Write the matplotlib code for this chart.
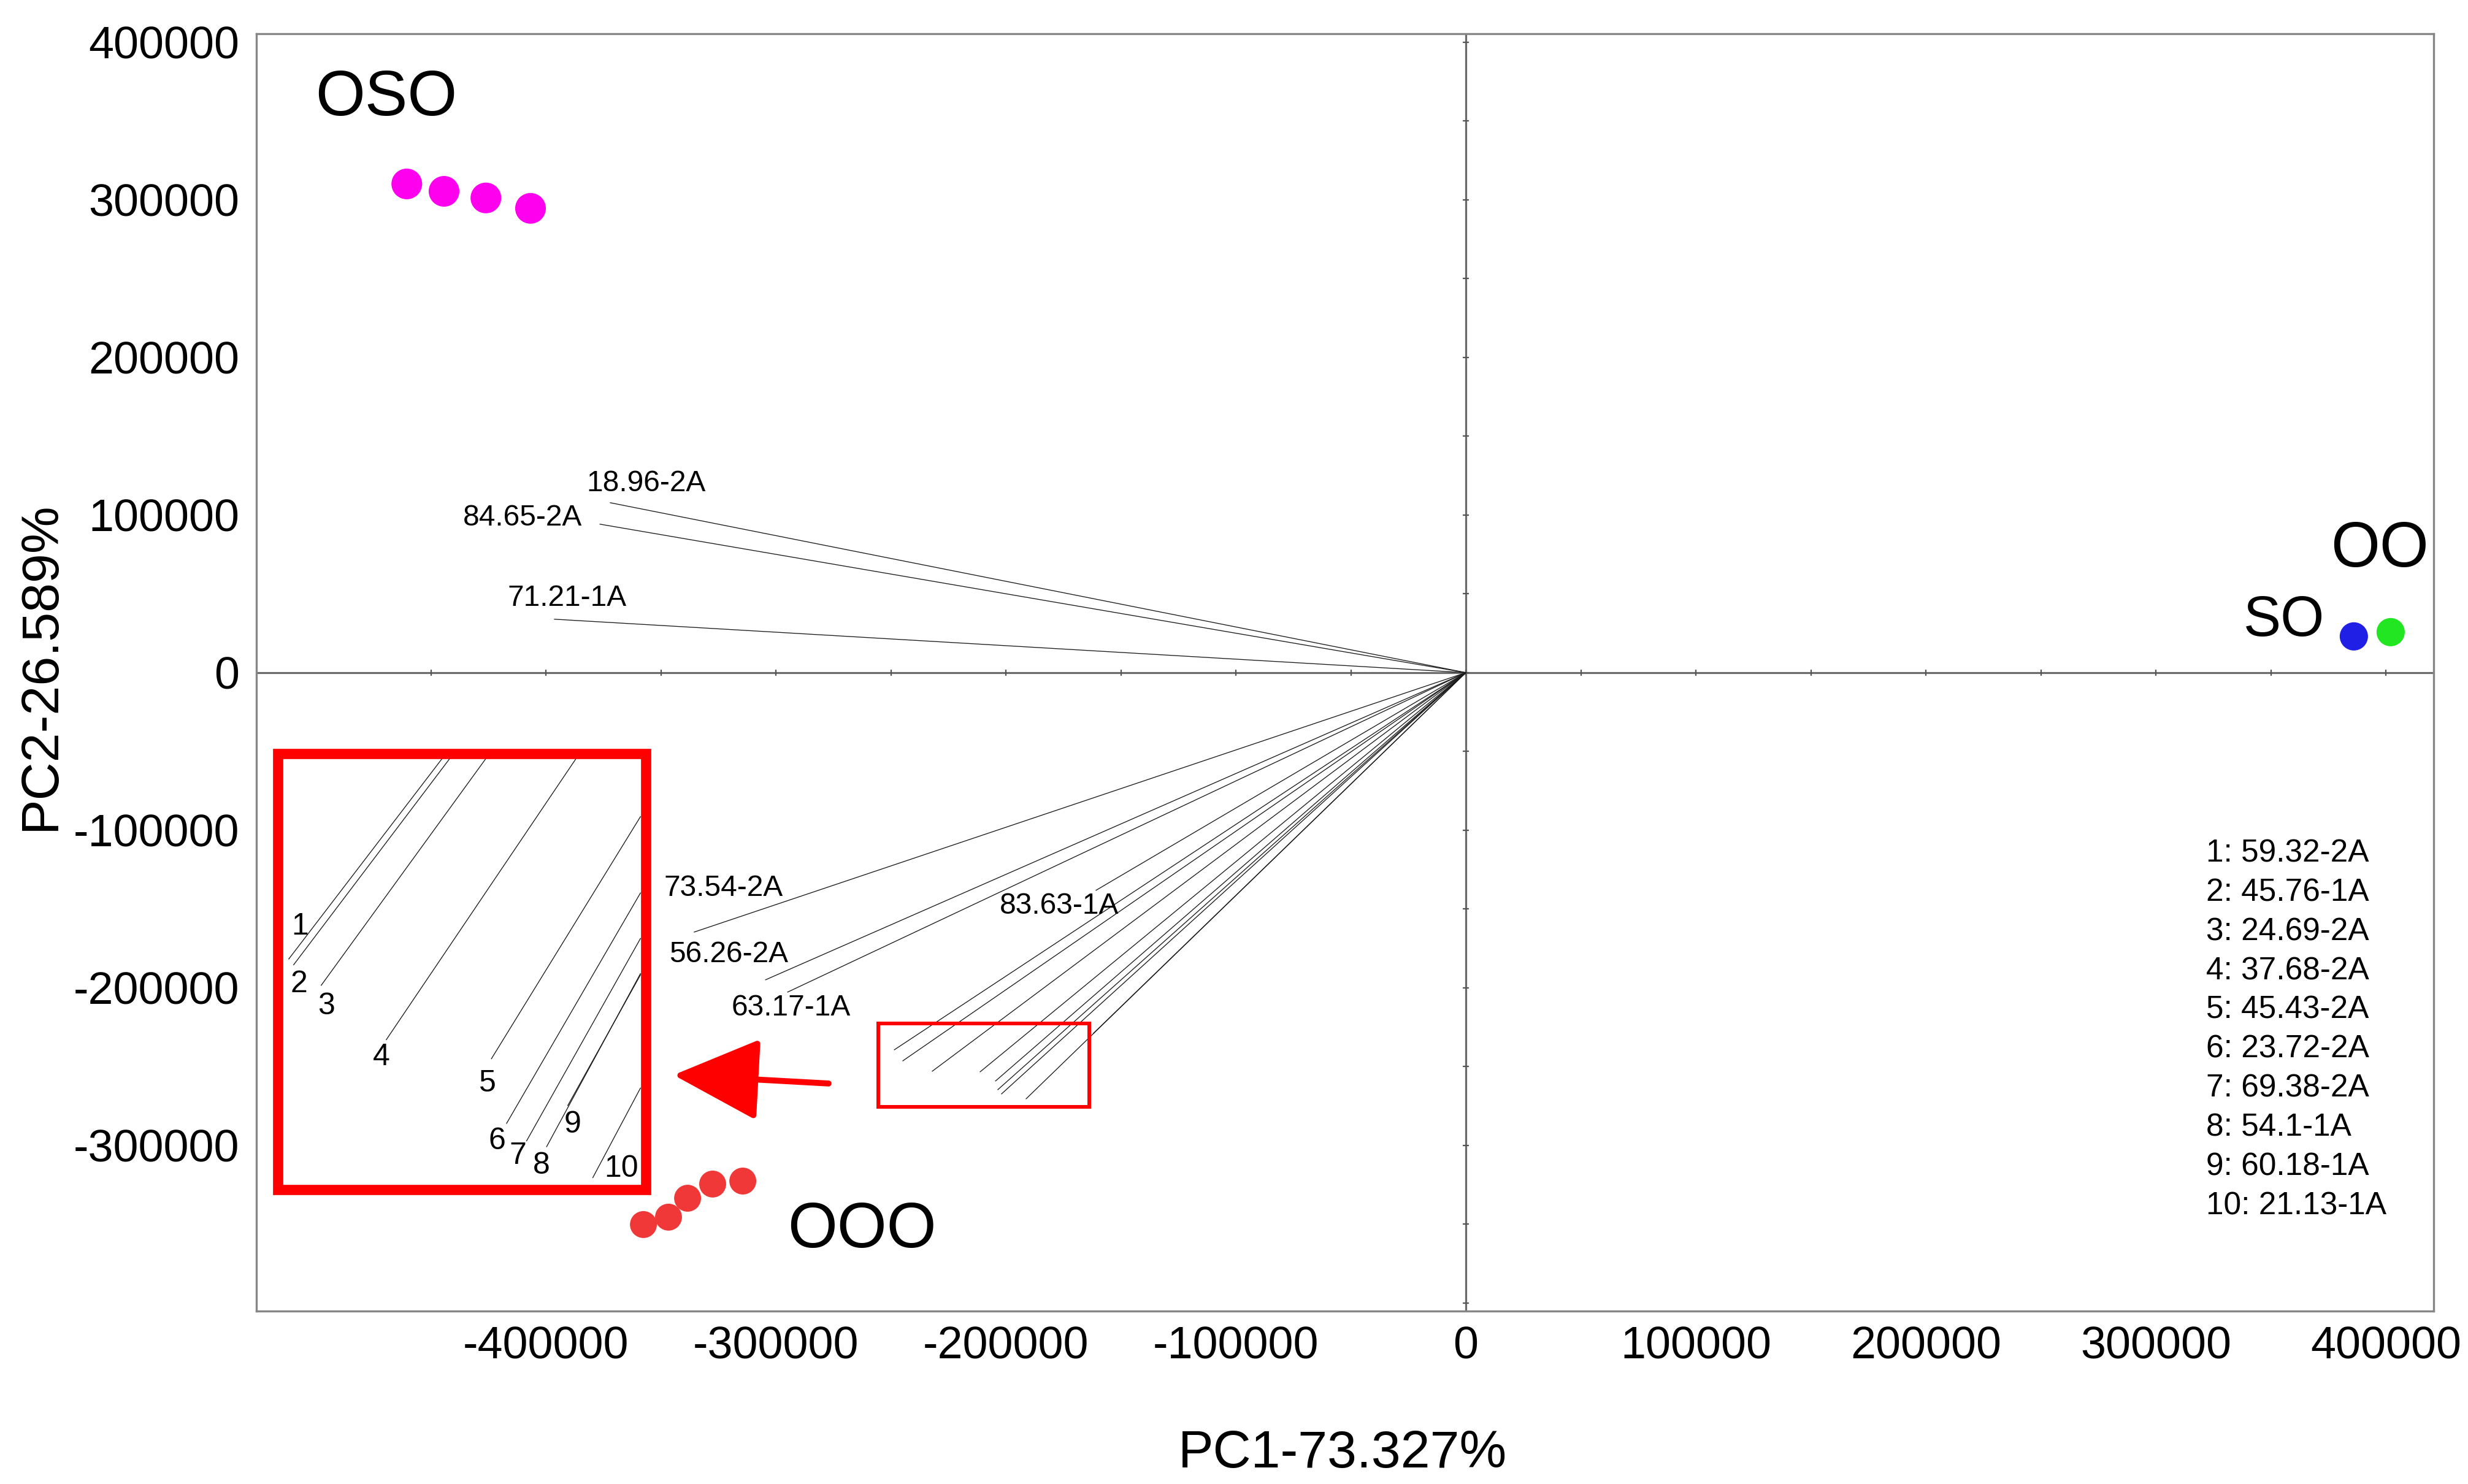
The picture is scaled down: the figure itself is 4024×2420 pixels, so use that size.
import matplotlib
matplotlib.use('Agg')
import matplotlib.pyplot as plt
from matplotlib.patches import Rectangle, FancyArrowPatch, ArrowStyle
import numpy as np

plt.rcParams['font.family'] = ['Liberation Sans', 'DejaVu Sans']

# ---------------- data ----------------
# score groups
oso_x = [-460500, -444300, -426100, -406700]
oso_y = [310100, 305400, 301200, 294600]
ooo_x = [-357600, -346700, -338400, -327500, -314400]
ooo_y = [-350200, -345500, -333500, -324500, -322600]
so_x = [386100]
so_y = [23000]
oo_x = [402100]
oo_y = [25700]

group_names = ['OSO', 'OOO', 'OO', 'SO']
group_lx = [-469300, -262700, 397300, 355700]
group_ly = [363800, -354500, 77400, 32700]
group_fs = [75, 75, 74, 66]

# labelled loading vectors (end points) and their label positions
lab_names = ['18.96-2A', '84.65-2A', '71.21-1A', '73.54-2A', '56.26-2A', '63.17-1A', '83.63-1A']
lab_x = [-372000, -376500, -396300, -335500, -304500, -294900, -160800]
lab_y = [107800, 94200, 33900, -164600, -194900, -202700, -138100]
lab_tx = [-356300, -410100, -390700, -322900, -320500, -293300, -176800]
lab_ty = [119800, 98100, 47100, -137000, -179000, -212800, -148200]

# unlabelled loading vectors ending in the highlighted region
box_load_x = [-248500, -244800, -232000, -211200, -204500, -203500, -201900, -191200, -161900]
box_load_y = [-239300, -246300, -252900, -253300, -259100, -264600, -267300, -270400, -228800]

# enlarged view (inset) of the highlighted region
inset_ids = ['1', '2', '3', '4', '5', '6', '7', '8', '9', '10']
inset_names = ['59.32-2A', '45.76-1A', '24.69-2A', '37.68-2A', '45.43-2A',
               '23.72-2A', '69.38-2A', '54.1-1A', '60.18-1A', '21.13-1A']
inset_x0 = [-511800, -509700, -497700, -469400, -423700, -417100, -408400, -399700, -390500, -379600]
inset_y0 = [-181700, -185400, -198400, -232900, -245000, -286000, -297100, -300800, -274700, -320400]
inset_x1 = [-444900, -441600, -425900, -386700, -358900, -358900, -358900, -358900, -358900, -358900]
inset_y1 = [-54100, -54100, -54100, -54100, -91400, -139800, -168700, -191000, -191800, -263600]
inset_lx = [-506900, -507500, -495500, -471600, -425300, -421200, -412300, -401900, -388300, -367200]
inset_ly = [-161100, -197700, -211700, -244000, -260700, -297300, -306600, -312800, -286800, -314800]

# highlight boxes (x0, x1, y0, y1) and arrow (tail -> tip)
zoom_box = [-516500, -356500, -328000, -51400]
small_box = [-255500, -163700, -275500, -222600]
arrow_tail = [-277100, -260700]
arrow_tip = [-344500, -255300]

# legend for numbered loadings
legend_x = 321900
legend_y = -114800

xticks = [-400000, -300000, -200000, -100000, 0, 100000, 200000, 300000, 400000]
yticks = [-300000, -200000, -100000, 0, 100000, 200000, 300000, 400000]
xlim = (-525900, 420800)
ylim = (-405100, 405400)

# ---------------- figure ----------------
W, H = 4024, 2420
fig = plt.figure(figsize=(W / 100, H / 100), dpi=100)
ax = fig.add_axes([418 / W, 1 - 2138 / H, 3550 / W, 2083 / H])
ax.set_xlim(*xlim)
ax.set_ylim(*ylim)

for sp in ax.spines.values():
    sp.set_color('#868686')
    sp.set_linewidth(2.4)

ax.set_xticks(xticks, labels=[str(t) for t in xticks])
ax.set_yticks(yticks, labels=[str(t) for t in yticks])
ax.tick_params(axis='both', length=0, labelsize=53)
ax.tick_params(axis='x', pad=17)
ax.tick_params(axis='y', pad=20)

ax.set_xlabel('PC1-73.327%', fontsize=62, va='center')
ax.xaxis.set_label_coords(0.4989, -0.1119)
ax.set_ylabel('PC2-26.589%', fontsize=62, va='center')
ax.yaxis.set_label_coords(-0.0989, 0.505)

# zero axes with small ticks
ax.axhline(0, color='#6a6a6a', lw=2.3, zorder=1)
ax.axvline(0, color='#6a6a6a', lw=2.3, zorder=1)
tx = np.arange(-450000, 400001, 50000)
ty = np.arange(-400000, 400001, 50000)
ax.plot(tx, np.zeros_like(tx), ls='none', marker='|', ms=7, mew=1.6, color='#555555', zorder=1)
ax.plot(np.zeros_like(ty), ty, ls='none', marker='_', ms=7, mew=1.6, color='#555555', zorder=1)

# loading vectors
line_kw = dict(color='#1a1a1a', lw=0.95, zorder=2)
for x, y in zip(lab_x, lab_y):
    ax.plot([0, x], [0, y], **line_kw)
for x, y in zip(box_load_x, box_load_y):
    ax.plot([0, x], [0, y], **line_kw)
for name, tx_, ty_ in zip(lab_names, lab_tx, lab_ty):
    ax.text(tx_, ty_, name, fontsize=34.5, ha='center', va='center', zorder=5)

# inset lines and numbers
for x0, y0, x1, y1 in zip(inset_x0, inset_y0, inset_x1, inset_y1):
    ax.plot([x0, x1], [y0, y1], **line_kw)
for lid, lx, ly in zip(inset_ids, inset_lx, inset_ly):
    ax.text(lx, ly, lid, fontsize=36, ha='center', va='center', zorder=5)

# highlight boxes
ax.add_patch(Rectangle((zoom_box[0], zoom_box[2]), zoom_box[1] - zoom_box[0],
                       zoom_box[3] - zoom_box[2], fill=False, ec='#ff0000', lw=12, zorder=4))
ax.add_patch(Rectangle((small_box[0], small_box[2]), small_box[1] - small_box[0],
                       small_box[3] - small_box[2], fill=False, ec='#ff0000', lw=4.3, zorder=4))
ax.add_patch(FancyArrowPatch(tuple(arrow_tail), tuple(arrow_tip),
                             arrowstyle=ArrowStyle('-|>', head_length=88, head_width=42),
                             mutation_scale=1, color='#ff0000', lw=7, shrinkA=0, shrinkB=0,
                             zorder=4))

# scores
ax.scatter(oso_x, oso_y, s=1300, color='#ff00ee', edgecolors='none', zorder=6)
ax.scatter(ooo_x, ooo_y, s=1000, color='#f03838', edgecolors='none', zorder=6)
ax.scatter(so_x, so_y, s=1100, color='#1f1fe6', edgecolors='none', zorder=6)
ax.scatter(oo_x, oo_y, s=1100, color='#22e622', edgecolors='none', zorder=6)
for name, gx, gy, fs in zip(group_names, group_lx, group_ly, group_fs):
    ax.text(gx, gy, name, fontsize=fs, ha='center', va='center', zorder=6)

# numbered legend
for i, (lid, nm) in enumerate(zip(inset_ids, inset_names)):
    ax.annotate(f'{lid}: {nm}', xy=(legend_x, legend_y), xytext=(0, -46 * i),
                textcoords='offset points', fontsize=37, ha='left', va='center')

fig.savefig('out.png', dpi=100)
